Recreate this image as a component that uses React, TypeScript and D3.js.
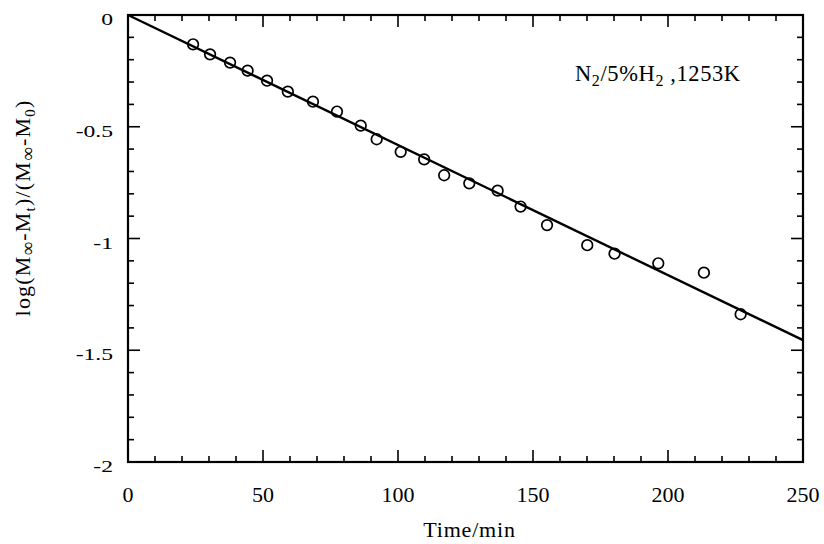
import React from "react";
import * as d3 from "d3";

// measured points (time in min, log ratio)
const times = [24.1, 30.4, 37.8, 44.3, 51.5, 59.2, 68.5, 77.4, 86.2, 92.1, 101.0, 109.7, 117.1, 126.4, 136.9, 145.4, 155.2, 170.1, 180.2, 196.4, 213.3, 226.9];
const logRatio = [-0.131, -0.176, -0.213, -0.249, -0.294, -0.343, -0.388, -0.432, -0.495, -0.556, -0.612, -0.646, -0.717, -0.753, -0.786, -0.857, -0.940, -1.030, -1.068, -1.111, -1.153, -1.339];

// fitted line end points
const fitX = [0, 250];
const fitY = [0, -1.455];

const xTicks = [0, 50, 100, 150, 200, 250];
const yTicks = [0, -0.5, -1, -1.5, -2];

const W = 824;
const H = 544;
const margin = { left: 128, right: 21, top: 15, bottom: 82 };
const font = "'Liberation Serif', 'Times New Roman', serif";

export default function App() {
  const x = d3.scaleLinear().domain([0, 250]).range([margin.left, W - margin.right]);
  const y = d3.scaleLinear().domain([-2, 0]).range([H - margin.bottom, margin.top]);
  const [x0, x1] = x.range();
  const [y1, y0] = y.range();

  const minorX = d3.range(0, 251, 10);
  const minorY = d3.range(0, 21).map((i) => -i / 10);

  const line = d3
    .line<number>()
    .x((d) => x(fitX[d]))
    .y((d) => y(fitY[d]));

  return (
    <svg width={W} height={H} style={{ position: "absolute", left: 0, top: 0, background: "#fff" }}>
      <g stroke="#000" strokeWidth={1.6}>
        {minorX.map((v) => {
          const major = v % 50 === 0;
          const len = major ? 12 : 6;
          return (
            <g key={"x" + v}>
              <line x1={x(v)} x2={x(v)} y1={y1} y2={y1 - len} />
              <line x1={x(v)} x2={x(v)} y1={y0} y2={y0 + len} />
            </g>
          );
        })}
        {minorY.map((v) => {
          const major = Math.abs(v * 10) % 5 === 0;
          const len = major ? 12 : 6;
          return (
            <g key={"y" + v}>
              <line x1={x0} x2={x0 + len} y1={y(v)} y2={y(v)} />
              <line x1={x1} x2={x1 - len} y1={y(v)} y2={y(v)} />
            </g>
          );
        })}
      </g>
      <rect x={x0} y={y0} width={x1 - x0} height={y1 - y0} fill="none" stroke="#000" strokeWidth={2.2} />
      <path d={line([0, 1]) || ""} fill="none" stroke="#000" strokeWidth={2.4} />
      {times.map((t, i) => (
        <circle key={i} cx={x(t)} cy={y(logRatio[i])} r={5.3} fill="none" stroke="#000" strokeWidth={1.7} />
      ))}
      <g fontFamily={font} fontSize={22} fill="#000">
        {xTicks.map((v) => (
          <text key={v} x={x(v)} y={y1 + 40} textAnchor="middle">
            {v}
          </text>
        ))}
        {yTicks.map((v) => (
          <text
            key={v}
            transform={`translate(${x0 - 15}, ${y(v) + 10}) scale(1.35, 1)`}
            fontSize={17.5}
            textAnchor="end"
          >
            {v}
          </text>
        ))}
        <text x={(x0 + x1) / 2 + 4} y={y1 + 75} textAnchor="middle" letterSpacing={0.8}>
          Time/min
        </text>
        <text
          transform={`translate(30, 208) rotate(-90)`}
          textAnchor="middle"
          letterSpacing={1.2}
        >
          log(M<tspan fontSize={19} dy={4}>∞</tspan>
          <tspan dy={-4}>-M</tspan>
          <tspan fontSize={15} dy={5}>t</tspan>
          <tspan dy={-5}>)/(M</tspan>
          <tspan fontSize={19} dy={4}>∞</tspan>
          <tspan dy={-4}>-M</tspan>
          <tspan fontSize={15} dy={5}>0</tspan>
          <tspan dy={-5}>)</tspan>
        </text>
        <text x={575} y={81} fontSize={22.5} letterSpacing={0.6}>
          N<tspan fontSize={16} dy={5}>2</tspan>
          <tspan dy={-5}>/5%H</tspan>
          <tspan fontSize={16} dy={5}>2</tspan>
          <tspan dy={-5}> ,1253K</tspan>
        </text>
      </g>
    </svg>
  );
}
